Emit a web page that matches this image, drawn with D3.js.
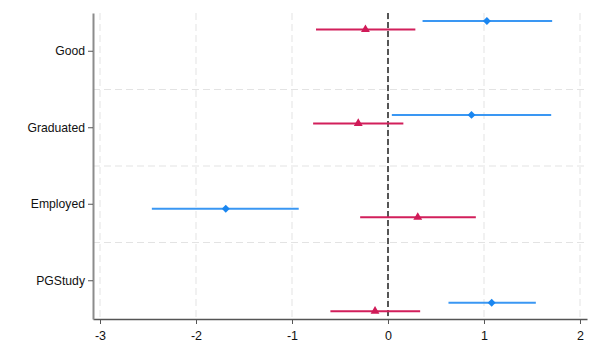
<!DOCTYPE html>
<html><head><meta charset="utf-8">
<script src="https://cdn.jsdelivr.net/npm/d3@7"></script>
<style>body{margin:0;background:#fff}svg{display:block;font-family:"Liberation Sans",Arial,sans-serif}</style>
</head><body>
<svg id="c" width="600" height="360"></svg>
<script>
const categories = ["Good", "Graduated", "Employed", "PGStudy"];
const xTicks = [-3, -2, -1, 0, 1, 2];
// series 1 (blue diamonds)
const blueEst = [1.03, 0.87, -1.69, 1.08];
const blueLo  = [0.36, 0.04, -2.46, 0.63];
const blueHi  = [1.71, 1.70, -0.93, 1.54];
// series 2 (red triangles)
const redEst = [-0.235, -0.31, 0.31, -0.135];
const redLo  = [-0.75, -0.78, -0.29, -0.60];
const redHi  = [0.285, 0.16, 0.915, 0.335];

const svg = d3.select("#c");
const L = 93, R = 587, T = 13, B = 319;
const x = d3.scaleLinear().domain([-3.073, 2.073]).range([L, R]);
const yBand = d3.scaleBand().domain(categories).range([T, B]);
const yMark = d3.scaleLinear().domain([0, categories.length - 1]).range([21, 302.7]);
const seriesOffset = 8.5;

// grid
const g = svg.append("g");
g.selectAll(".vg").data(xTicks).join("line")
  .attr("x1", d => x(d)).attr("x2", d => x(d)).attr("y1", T).attr("y2", B)
  .attr("stroke", "#e3e3e3").attr("stroke-width", 1).attr("stroke-dasharray", "7,4");
g.selectAll(".hg").data(categories.slice(1)).join("line")
  .attr("x1", L).attr("x2", R).attr("y1", d => yBand(d)).attr("y2", d => yBand(d))
  .attr("stroke", "#e3e3e3").attr("stroke-width", 1).attr("stroke-dasharray", "7,4");

// zero line
svg.append("line").attr("x1", x(0)).attr("x2", x(0)).attr("y1", T).attr("y2", B)
  .attr("stroke", "#555").attr("stroke-width", 2).attr("stroke-dasharray", "6,3");

// axes
const xAxis = svg.append("g").attr("transform", `translate(0,${B})`)
  .call(d3.axisBottom(x).tickValues(xTicks).tickSize(5).tickSizeOuter(0).tickFormat(d3.format("d")));
xAxis.select(".domain").attr("stroke", "#555").attr("stroke-width", 1.5);
xAxis.selectAll(".tick line").attr("stroke", "#555");
xAxis.selectAll(".tick text").attr("font-size", 12.5).attr("fill", "#111").attr("dy", "1em").text(d => d < 0 ? "-" + Math.abs(d) : d);

const yAxis = svg.append("g").attr("transform", `translate(${L},0)`)
  .call(d3.axisLeft(yBand).tickSize(5).tickSizeOuter(0));
yAxis.select(".domain").attr("stroke", "#8c8c8c").attr("stroke-width", 2);
yAxis.selectAll(".tick line").attr("stroke", "#555");
yAxis.selectAll(".tick text").attr("font-size", 12.2).attr("fill", "#111").attr("x", -8);

const series = [
  {est: blueEst, lo: blueLo, hi: blueHi, color: "#3a97f3", mcolor: "#1a86f0", sym: d3.symbolDiamond2, off: 0, size: 40},
  {est: redEst, lo: redLo, hi: redHi, color: "#d21f5b", mcolor: "#d01a58", sym: d3.symbolTriangle, off: seriesOffset, size: 34}
];
series.forEach(s => {
  const data = categories.map((c, i) => ({i, e: s.est[i], lo: s.lo[i], hi: s.hi[i]}));
  svg.append("g").selectAll("line").data(data).join("line")
    .attr("x1", d => x(d.lo)).attr("x2", d => x(d.hi))
    .attr("y1", d => yMark(d.i) + s.off).attr("y2", d => yMark(d.i) + s.off)
    .attr("stroke", s.color).attr("stroke-width", 2);
  svg.append("g").selectAll("path").data(data).join("path")
    .attr("d", d3.symbol().type(s.sym).size(s.size))
    .attr("transform", d => `translate(${x(d.e)},${yMark(d.i) + s.off})`)
    .attr("fill", s.mcolor);
});
</script>
</body></html>
